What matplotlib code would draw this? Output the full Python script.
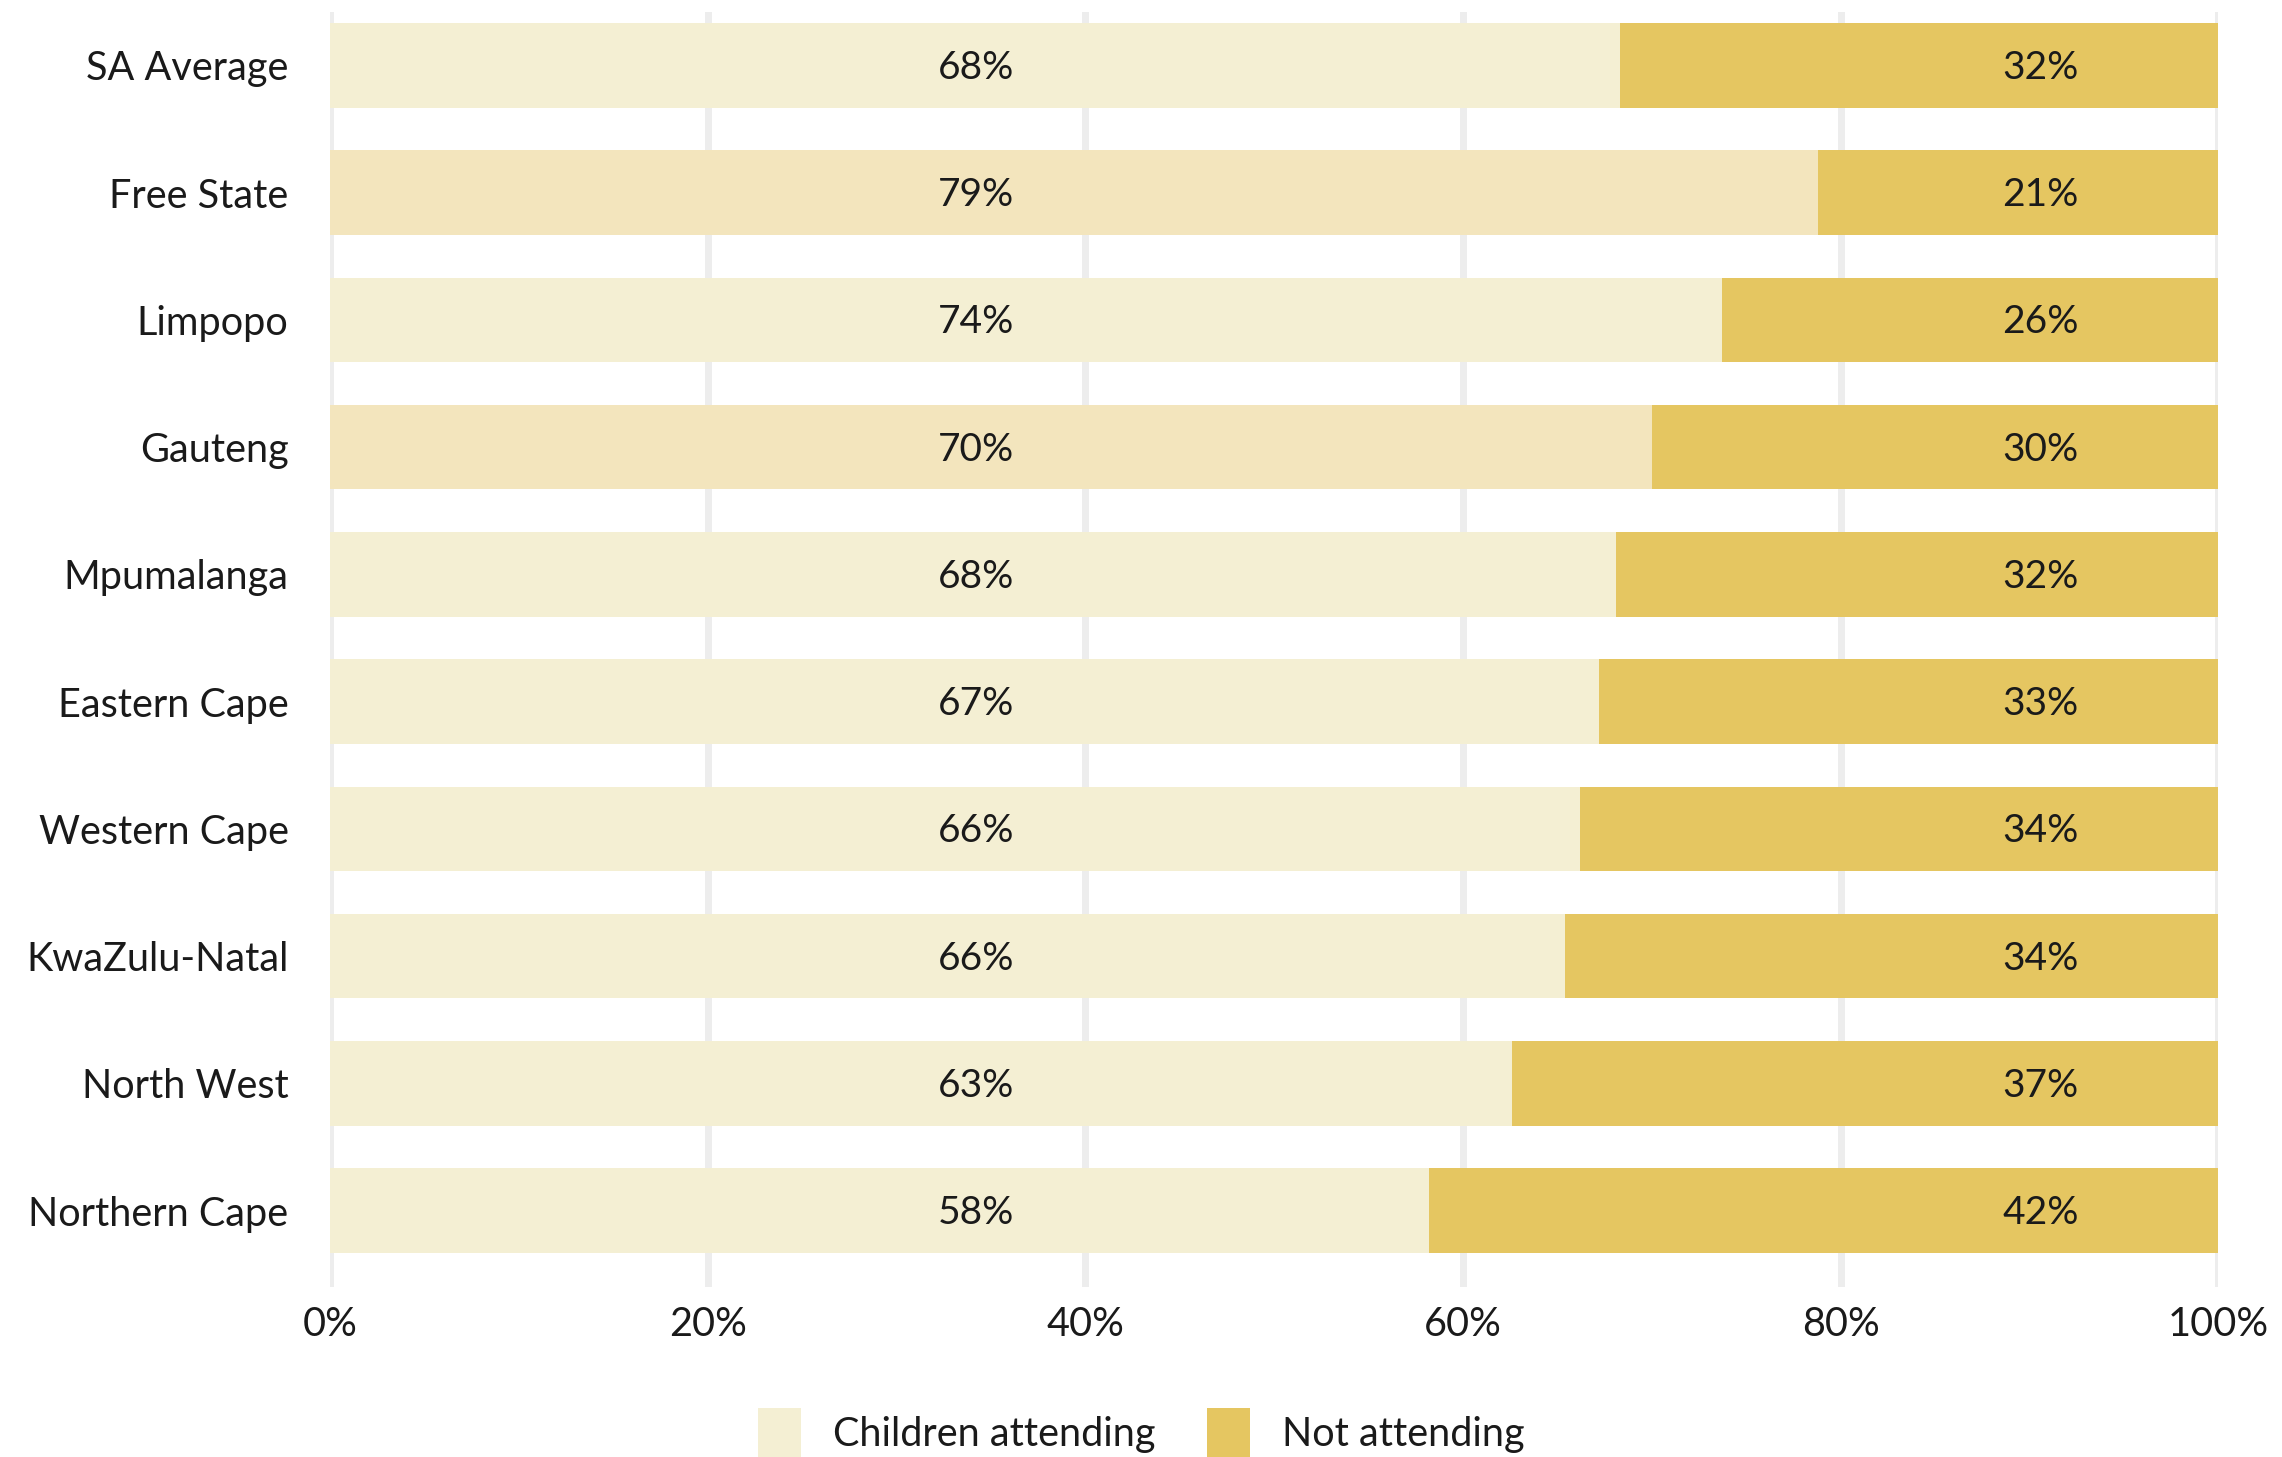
import matplotlib
matplotlib.use("Agg")
import matplotlib.pyplot as plt
from matplotlib.patches import Patch

categories = ["SA Average", "Free State", "Limpopo", "Gauteng", "Mpumalanga",
              "Eastern Cape", "Western Cape", "KwaZulu-Natal", "North West", "Northern Cape"]
attending = [68.3, 78.8, 73.7, 70.0, 68.1, 67.2, 66.2, 65.4, 62.6, 58.2]
not_attending = [31.7, 21.2, 26.3, 30.0, 31.9, 32.8, 33.8, 34.6, 37.4, 41.8]
attending_labels = ["68%", "79%", "74%", "70%", "68%", "67%", "66%", "66%", "63%", "58%"]
not_attending_labels = ["32%", "21%", "26%", "30%", "32%", "33%", "34%", "34%", "37%", "42%"]
xticks = [0, 20, 40, 60, 80, 100]
xtick_labels = ["0%", "20%", "40%", "60%", "80%", "100%"]

LIGHT = "#F4EFD3"
LIGHT_ALT = "#F3E5BD"
DARK = "#E5C661"
GRID = "#EDEDED"
TEXT = "#1a1a1a"
FONT = "Lato"

plt.rcParams["font.family"] = [FONT, "DejaVu Sans"]

fig = plt.figure(figsize=(22.82, 14.57), dpi=100)
ax = fig.add_axes([0.1447, 0.1167, 0.9720 - 0.1447, 0.9918 - 0.1167])

y = list(range(len(categories)))
light_colors = [LIGHT_ALT if c in ("Free State", "Gauteng") else LIGHT for c in categories]
h = 0.665
ax.barh(y, attending, height=h, color=light_colors, zorder=2, linewidth=0)
ax.barh(y, not_attending, left=attending, height=h, color=DARK, zorder=2, linewidth=0)

for i in y:
    ax.text(34.2, i + 0.02, attending_labels[i], ha="center", va="center", fontsize=28, color=TEXT, zorder=3)
    ax.text(90.6, i + 0.02, not_attending_labels[i], ha="center", va="center", fontsize=28, color=TEXT, zorder=3)

ax.set_xlim(0, 100)
ax.set_ylim(len(categories) - 1 + 0.6, -0.42)
ax.set_xticks(xticks)
ax.set_xticklabels(xtick_labels, fontsize=28.5, color=TEXT)
ax.set_yticks(y)
ax.set_yticklabels(categories, fontsize=28.5, color=TEXT, va="center_baseline")
ax.tick_params(axis="both", length=0)
ax.tick_params(axis="x", pad=14)
ax.tick_params(axis="y", pad=30)
for s in ax.spines.values():
    s.set_visible(False)
ax.xaxis.grid(True, color=GRID, linewidth=5, zorder=0)
ax.set_axisbelow(True)

handles = [Patch(facecolor=LIGHT, edgecolor="none", label="Children attending"),
           Patch(facecolor=DARK, edgecolor="none", label="Not attending")]
fig.legend(handles=handles, loc="lower center", bbox_to_anchor=(0.5, -0.025), ncol=2,
           frameon=False, fontsize=28.5, handlelength=1.1, handleheight=1.55,
           handletextpad=0.8, columnspacing=1.3, labelcolor=TEXT)

fig.savefig("out.png", dpi=100, facecolor="white")
